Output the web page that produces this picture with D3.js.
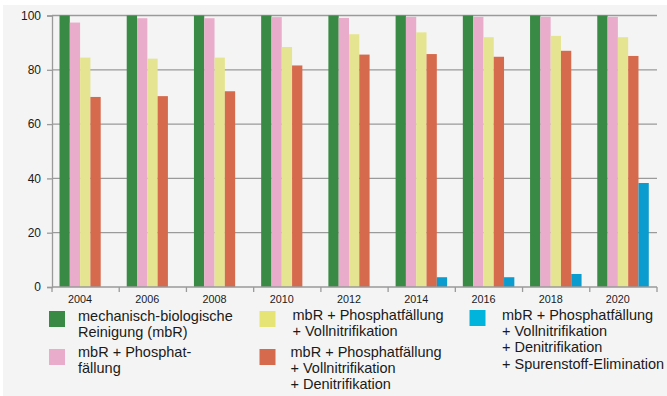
<!DOCTYPE html>
<html>
<head>
<meta charset="utf-8">
<script src="https://cdn.jsdelivr.net/npm/d3@7"></script>
<style>
  body { margin: 0; background: #fff; }
  text { font-family: "Liberation Sans", Arial, sans-serif; fill: #1a1a1a; }
</style>
</head>
<body>
<div id="chart"></div>
<script>
let w = 667;
let h = 396;

// data
let years = ["2004", "2006", "2008", "2010", "2012", "2014", "2016", "2018", "2020"];
let series = ["mbr", "phos", "voll", "deni", "spur"];
let mbr  = [100, 100, 100, 100, 100, 100, 100, 100, 100];
let phos = [97.4, 99, 99, 99.4, 99.1, 99.5, 99.5, 99.5, 99.5];
let voll = [84.5, 84.1, 84.5, 88.4, 93.1, 93.8, 92.0, 92.5, 92.0];
let deni = [70.0, 70.3, 72.1, 81.6, 85.6, 85.8, 84.8, 87.0, 85.1];
let spur = [0, 0, 0, 0, 0, 3.6, 3.6, 4.8, 38.3];
let yTicks = [0, 20, 40, 60, 80, 100];
let legendLabels = [
    ["mechanisch-biologische", "Reinigung (mbR)"],
    ["mbR + Phosphat-", "fällung"],
    ["mbR + Phosphatfällung", "+ Vollnitrifikation"],
    ["mbR + Phosphatfällung", "+ Vollnitrifikation", "+ Denitrifikation"],
    ["mbR + Phosphatfällung", "+ Vollnitrifikation", "+ Denitrifikation", "+ Spurenstoff-Elimination"]
];

let values = {mbr: mbr, phos: phos, voll: voll, deni: deni, spur: spur};
let barColors = {mbr: "#388a45", phos: "#eaaccb", voll: "#e5e490", deni: "#d66a4c", spur: "#0a9bcf"};
let swatchColors = {mbr: "#388a45", phos: "#eaaccb", voll: "#e5e474", deni: "#d66a4c", spur: "#00b4dc"};

let svg = d3.select("#chart").append("svg")
    .attr("width", w)
    .attr("height", h);

svg.append("rect")
    .attr("x", 3).attr("y", 5)
    .attr("width", w - 3).attr("height", h - 5)
    .attr("fill", "#f4f4f4");

let x0 = d3.scaleBand().domain(years).range([52, 657]);
let x1 = d3.scaleBand().domain(series).range([7.5, 59]);
let y = d3.scaleLinear().domain([0, 100]).range([287, 15.5]);

// gridlines
svg.append("g").selectAll("line")
    .data(yTicks.filter(d => d > 0))
    .join("line")
    .attr("x1", 52).attr("x2", 657)
    .attr("y1", d => y(d)).attr("y2", d => y(d))
    .attr("stroke", "#9a9a9a")
    .attr("stroke-width", 1.3);

// bars
let rows = [];
years.forEach(function(yr, i){
    series.forEach(function(s){
        rows.push({year: yr, key: s, value: values[s][i]});
    });
});
svg.append("g").selectAll("rect")
    .data(rows.filter(d => d.value > 0))
    .join("rect")
    .attr("x", d => x0(d.year) + x1(d.key))
    .attr("width", x1.bandwidth())
    .attr("y", d => y(d.value))
    .attr("height", d => y(0) - y(d.value))
    .attr("fill", d => barColors[d.key]);

// y axis
let yAxis = svg.append("g")
    .attr("transform", "translate(52,0)")
    .call(d3.axisLeft(y).tickValues(yTicks).tickSize(5).tickPadding(6));
yAxis.selectAll("path, line").attr("stroke", "#9a9a9a").attr("stroke-width", 1.3);
yAxis.selectAll("text")
    .attr("font-size", 12)
    .attr("fill", "#1a1a1a")
    .style("font-family", "Liberation Sans, Arial, sans-serif");

// x axis
svg.append("line")
    .attr("x1", 52).attr("x2", 657)
    .attr("y1", y(0)).attr("y2", y(0))
    .attr("stroke", "#9a9a9a").attr("stroke-width", 1.3);
let bounds = years.map(d => x0(d)).concat([x0.range()[1]]);
svg.append("g").selectAll("line")
    .data(bounds)
    .join("line")
    .attr("x1", d => d).attr("x2", d => d)
    .attr("y1", y(0)).attr("y2", y(0) + 5)
    .attr("stroke", "#9a9a9a").attr("stroke-width", 1.3);
svg.append("g").selectAll("text")
    .data(years)
    .join("text")
    .attr("x", d => x0(d) + x0.bandwidth() / 2 - 5.5)
    .attr("y", 303)
    .attr("text-anchor", "middle")
    .attr("font-size", 10.8)
    .text(d => d);

// legend
let legendPos = [
    {sx: 49, sy: 311, tx: 78, ty: 321},
    {sx: 49, sy: 349, tx: 78, ty: 357},
    {sx: 259.5, sy: 311, tx: 292.5, ty: 320},
    {sx: 259.5, sy: 349, tx: 290.5, ty: 357},
    {sx: 469.5, sy: 310, tx: 502, ty: 320}
];
let legend = svg.append("g").selectAll("g")
    .data(series)
    .join("g");
legend.append("rect")
    .attr("x", (d, i) => legendPos[i].sx)
    .attr("y", (d, i) => legendPos[i].sy)
    .attr("width", 16).attr("height", 16)
    .attr("fill", d => swatchColors[d]);
legend.each(function(d, i){
    let g = d3.select(this);
    legendLabels[i].forEach(function(line, j){
        g.append("text")
            .attr("x", legendPos[i].tx)
            .attr("y", legendPos[i].ty + j * 16.2)
            .attr("font-size", 14.5)
            .text(line);
    });
});
</script>
</body>
</html>
